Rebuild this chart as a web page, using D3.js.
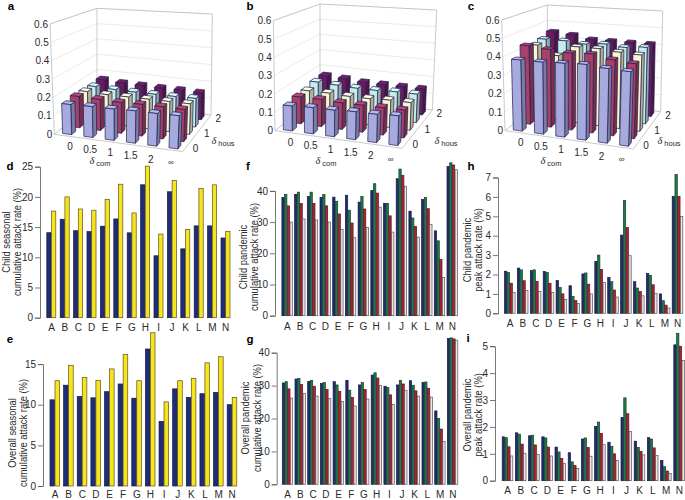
<!DOCTYPE html>
<html><head><meta charset="utf-8">
<script src="https://cdn.jsdelivr.net/npm/d3@7"></script>
<style>
html,body{margin:0;padding:0;background:#fff}
svg{display:block}
text{font-family:"Liberation Sans",Arial,sans-serif;fill:#2a2a2a}
</style></head><body><svg id="c" width="685" height="500"></svg>
<script>
const categories = ["A","B","C","D","E","F","G","H","I","J","K","L","M","N"];
const comLabels = ["0","0.5","1","1.5","2","∞"];
const housLabels = ["0","1","2"];
const zTicks = [0,0.1,0.2,0.3,0.4,0.5,0.6];

const a3d = [
 [.163,.165,.165,.168,.167,.168],
 [.175,.172,.168,.170,.170,.168],
 [.170,.165,.165,.165,.165,.165],
 [.165,.160,.158,.158,.158,.160],
 [.170,.162,.160,.158,.158,.155]];
const b3d = [
 [.135,.140,.140,.145,.145,.150],
 [.150,.150,.145,.145,.145,.145],
 [.150,.150,.145,.145,.150,.150],
 [.165,.160,.155,.155,.160,.160],
 [.165,.160,.150,.150,.150,.150]];
const c3d = [
 [.385,.385,.390,.395,.385,.380],
 [.440,.430,.420,.425,.405,.395],
 [.420,.370,.430,.430,.420,.415],
 [.430,.430,.420,.430,.420,.430],
 [.450,.440,.420,.420,.420,.420]];

const dBlue = [14.07,16.3,14.4,14.25,15.15,16.35,14.05,22,10.25,20.85,11.4,15.2,15.2,13.2];
const dYellow = [17.65,20,18,17.8,19.55,22.1,17.35,25.1,13.85,22.7,14.6,21.4,22,14.3];
const eBlue = [10.6,12.4,11,10.85,11.6,12.55,10.8,16.85,7.95,11.95,10.9,11.35,11.5,10];
const eYellow = [12.95,14.85,13.35,13,14.4,16.2,12.95,18.85,10.35,12.95,13.25,15.15,15.9,10.9];

const fBlue = [37.9,38.9,38.2,37.9,38,38.6,36.4,40.1,36,43.9,33.5,37.2,27.2,47.8];
const fGreen = [38.9,39.6,39.6,38.8,36.6,33.8,38.2,42.3,36,47,31.3,37.9,24,49];
const fRed = [35.2,36,36,35.2,32.6,29.7,34.2,39.3,32,45,28.6,34.3,18,48.3];
const fPale = [30,31,30.7,30,27.6,25,28.3,34.8,26.8,41.5,25.2,29.3,12.2,46.8];

const gBlue = [30.8,32,31.3,30.6,31.2,31.6,30.2,33.2,29.8,30.2,31.5,31,22.3,44.3];
const gGreen = [31.2,32.2,31.6,30.9,30.2,28.6,30.9,33.9,29.4,31.6,30.1,31.1,20,44.5];
const gRed = [29,30.3,29.8,28.8,28.2,26.4,28.8,32.3,27.2,30.5,28.4,29.2,16.8,44.2];
const gPale = [26.2,27.6,26.8,26.1,25.2,23.8,25.9,30,24.3,28.6,26.8,26.5,13,43.8];

const hBlue = [2.17,2.33,2.2,2.15,1.69,1.42,2.03,2.68,1.85,4.03,1.63,2.05,1,6.03];
const hGreen = [2.1,2.24,2.24,2.1,1.33,.86,2.08,3,1.63,5.82,1.3,1.96,.65,7.15];
const hRed = [1.55,1.68,1.65,1.55,1,.66,1.5,2.26,1.2,4.42,1.12,1.47,.42,6.03];
const hPale = [1.07,1.17,1.13,1.07,.72,.5,1,1.58,.84,2.97,.9,1.03,.27,5];

const iBlue = [1.63,1.78,1.67,1.63,1.25,1.04,1.55,2.02,1.43,2.35,1.47,1.6,.75,5.05];
const iGreen = [1.6,1.73,1.69,1.59,1.07,.7,1.59,2.18,1.28,3.08,1.24,1.55,.52,5.48];
const iRed = [1.26,1.36,1.33,1.25,.83,.57,1.24,1.76,1,2.49,1.09,1.22,.36,5];
const iPale = [.92,1.02,.98,.92,.65,.46,.91,1.34,.75,1.83,.96,.94,.27,4.47];

const svg = d3.select("#c");
const two = ["#1f2c78","#f6e41c"], twoS = ["#15183f","#5c5220"];
const four = ["#1f2f72","#1f7a4a","#ad2238","#f3e4e4"], fourS = ["#15183f","#14402a","#5a1520","#555"];

function barPanel(o){
  const g = svg.append("g");
  const y = d3.scaleLinear().domain([0,o.top]).range([o.y0,o.y0-o.top*o.unit]);
  const x = d3.scaleBand().domain(categories).range([o.xA-o.step/2,o.xA+o.step*13.5]);
  const inner = d3.scaleBand().domain(d3.range(o.series.length)).range([-o.bw*o.series.length/2,o.bw*o.series.length/2]);
  const cols = o.series.length==2?two:four, strokes=o.series.length==2?twoS:fourS;
  o.series.forEach((s,k)=>{
    g.selectAll(null).data(s).enter().append("rect")
     .attr("x",(d,i)=>x(categories[i])+x.bandwidth()/2+inner(k))
     .attr("width",inner.bandwidth()-.4)
     .attr("y",d=>y(d)).attr("height",d=>o.y0-y(d))
     .attr("fill",cols[k]).attr("stroke",strokes[k]).attr("stroke-width",.7);
  });
  const ax = d3.axisLeft(y).tickValues(o.ticks).tickFormat(d3.format("d")).tickSize(5).tickPadding(2);
  const ag = g.append("g").attr("transform",`translate(${o.ax},0)`).call(ax);
  ag.selectAll("path,line").attr("stroke","#555").attr("stroke-width",.8);
  ag.selectAll("text").style("font-size","10px");
  const bx = d3.axisBottom(x).tickSize(0).tickPadding(0);
  const bg = g.append("g").attr("transform",`translate(0,${o.ly})`).call(bx);
  bg.select("path").remove();
  bg.selectAll("text").style("font-size","10px").attr("dy",0).attr("y",8);
  o.title.forEach((t,i)=>{
    const tt=g.append("text").attr("transform",`translate(${o.tx[i]},${o.ty}) rotate(-90)`)
     .attr("text-anchor","middle").style("font-size","10.4px").text(t);
    const len=tt.node().getComputedTextLength();
    tt.attr("textLength",len*.9).attr("lengthAdjust","spacingAndGlyphs");
  });
  svg.append("text").attr("x",o.lx).attr("y",o.lyy).attr("text-anchor","middle")
     .style("font-size","11.5px").style("font-weight","bold").style("fill","#000").text(o.letter);
}

barPanel({letter:"d",lx:10,lyy:170,series:[dBlue,dYellow],top:25,ticks:[0,5,10,15,20,25],unit:6.04,y0:317.7,ax:40,xA:51.5,step:13.4,bw:4.7,ly:323,
  title:["Child seasonal","cumulative attack rate (%)"],tx:[10,21],ty:242});
barPanel({letter:"e",lx:10,lyy:343,series:[eBlue,eYellow],top:15,ticks:[0,5,10,15],unit:8.13,y0:486,ax:43,xA:55,step:13.63,bw:5,ly:490,
  title:["Overall seasonal","cumulative attack rate (%)"],tx:[15.5,27],ty:433});
barPanel({letter:"f",lx:248,lyy:170,series:[fBlue,fGreen,fRed,fPale],top:40,ticks:[0,10,20,30,40],unit:3.12,y0:315.7,ax:275,xA:287.3,step:12.7,bw:2.7,ly:322,
  title:["Child pandemic","cumulative attack rate (%)"],tx:[247,258],ty:257});
barPanel({letter:"g",lx:250,lyy:343,series:[gBlue,gGreen,gRed,gPale],top:40,ticks:[0,10,20,30,40],unit:3.29,y0:484.3,ax:276.7,xA:287.7,step:12.7,bw:2.7,ly:490,
  title:["Overall pandemic","cumulative attack rate (%)"],tx:[249,261],ty:418});
barPanel({letter:"h",lx:471,lyy:170,series:[hBlue,hGreen,hRed,hPale],top:7,ticks:d3.range(8),unit:19.4,y0:313.3,ax:498,xA:510,step:12.9,bw:2.75,ly:319,
  title:["Child pandemic","peak attack rate (%)"],tx:[471,482],ty:250});
barPanel({letter:"i",lx:468,lyy:342,series:[iBlue,iGreen,iRed,iPale],top:5,ticks:d3.range(6),unit:26.9,y0:480.7,ax:495,xA:507.7,step:13.2,bw:2.75,ly:486,
  title:["Overall pandemic","peak attack rate (%)"],tx:[471,482],ty:415});

const rowFront = ["#a6aadf","#a8406c","#f8f5cf","#c6eced","#6c1a62"];
function panel3d(o){
  const g = svg.append("g");
  const P = o.pts.map(p=>[p[0]/3+o.ox,p[1]/3+o.oy]);
  const [FL,FR,BR,BL,FLt,FRt,BRt,BLt] = P;
  const su = d3.scaleLinear().domain([0,6]).range([0,1]);
  const sv = d3.scaleLinear().domain([0,5]).range([0,1]);
  const sz = d3.scaleLinear().domain([0,.6]).range([0,1]);
  const mix=(a,b,t)=>[a[0]+(b[0]-a[0])*t,a[1]+(b[1]-a[1])*t];
  const proj=(u,v,z)=>{
    const U=su(u),V=sv(v),Z=sz(z);
    const b=mix(mix(FL,FR,U),mix(BL,BR,U),V), t=mix(mix(FLt,FRt,U),mix(BLt,BRt,U),V);
    return mix(b,t,Z);
  };
  const line=d3.line();
  const wall="#c4c4c4";
  const stroke=(pts,c,w)=>g.append("path").attr("d",line(pts)).attr("fill","none").attr("stroke",c).attr("stroke-width",w);
  zTicks.forEach(t=>{
    stroke([proj(0,0,t),proj(0,5,t),proj(6,5,t)],t==0||t==.6?"#bdbdbd":"#e2e2e2",t==0||t==.6?.9:.7);
  });
  stroke([proj(0,0,0),proj(0,0,.6)],wall,.9);
  stroke([proj(0,5,0),proj(0,5,.6)],wall,.9);
  stroke([proj(6,5,0),proj(6,5,.6)],wall,.9);
  stroke([proj(0,0,0),proj(6,0,0),proj(6,5,0)],wall,.9);
  const du=.21,dv=.25;
  for(let j=4;j>=0;j--){
    for(let i=0;i<6;i++){
      const v=o.data[j][i], uc=i+.5, vc=j+.5;
      const col=d3.color(rowFront[j]);
      const poly=(pts,f)=>g.append("path").attr("d",line(pts)+"Z").attr("fill",f)
        .attr("stroke","#20204a").attr("stroke-width",.7).attr("stroke-linejoin","round");
      poly([proj(uc+du,vc-dv,0),proj(uc+du,vc+dv,0),proj(uc+du,vc+dv,v),proj(uc+du,vc-dv,v)],col.darker(.9).formatHex());
      poly([proj(uc-du,vc-dv,v),proj(uc+du,vc-dv,v),proj(uc+du,vc+dv,v),proj(uc-du,vc+dv,v)],col.brighter(.25).formatHex());
      poly([proj(uc-du,vc-dv,0),proj(uc+du,vc-dv,0),proj(uc+du,vc-dv,v),proj(uc-du,vc-dv,v)],col.formatHex());
    }
  }
  const T=(p,s,fs,anchor)=>g.append("text").attr("x",p[0]).attr("y",p[1]).attr("text-anchor",anchor||"middle")
      .attr("dy","0.35em").style("font-size",fs+"px").text(s);
  zTicks.forEach(t=>{const p=proj(0,0,t);T([p[0]-2,p[1]],String(t),10,"end");});
  comLabels.forEach((s,i)=>{const p=proj(i+.5,0,0);T([p[0]+5-1.2*i,p[1]+10.5+.3*i],s,i==5?8:10);});
  housLabels.forEach((s,i)=>{const p=proj(6,i*2+.5,0);T([p[0]+10,p[1]],s,10);});
  const sym=(p,sub)=>{
    const t=g.append("text").attr("x",p[0]).attr("y",p[1]).attr("text-anchor","middle").style("font-size","10.5px");
    t.append("tspan").style("font-style","italic").style("font-family","Liberation Serif").text("δ");
    t.append("tspan").attr("dx",2).attr("dy",1.5).style("font-size","7.5px").text(sub);
  };
  sym(o.comPos,"com"); sym(o.housPos,"hous");
  svg.append("text").attr("x",o.lx).attr("y",o.lyy).attr("text-anchor","middle")
     .style("font-size","11.5px").style("font-weight","bold").style("fill","#000").text(o.letter);
}
panel3d({letter:"a",lx:11,lyy:10,data:a3d,ox:0,oy:0,
  pts:[[163,403],[548,455],[633,345],[291,300],[150,72],[563,95],[637,42],[291,25]],
  comPos:[100,164],housPos:[223,144]});
panel3d({letter:"b",lx:250,lyy:10,data:b3d,ox:225,oy:0,
  pts:[[150,392],[532,445],[622,330],[285,285],[145,62],[545,85],[635,30],[285,12]],
  comPos:[326,164],housPos:[446,144]});
panel3d({letter:"c",lx:471,lyy:10,data:c3d,ox:440,oy:0,
  pts:[[195,392],[580,447],[662,335],[322,290],[185,60],[592,90],[668,33],[322,15]],
  comPos:[551,164],housPos:[669,144]});
</script></body></html>
